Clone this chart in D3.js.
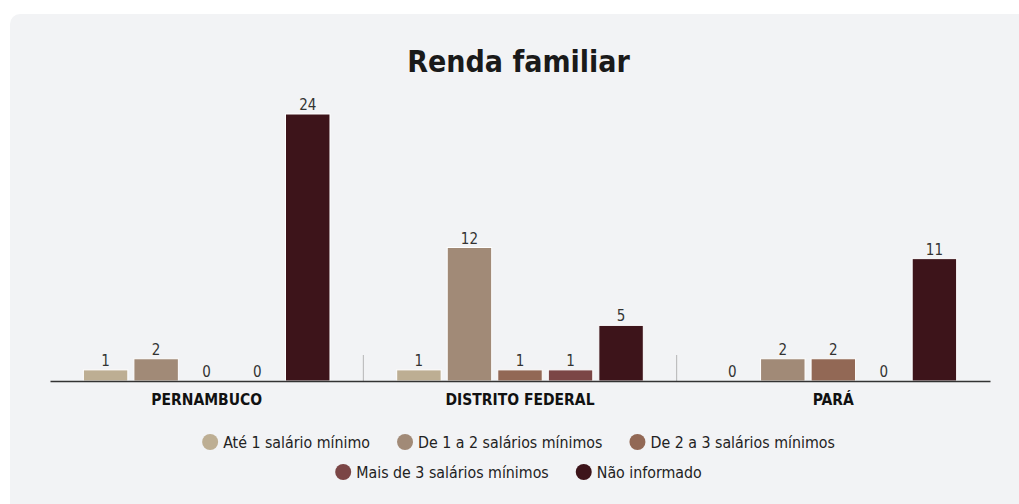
<!DOCTYPE html>
<html>
  <head>
    <meta charset="utf-8" />
    <title>Renda familiar</title>
    <script src="https://d3js.org/d3.v7.min.js"></script>
    <style>
      body {
        margin: 0;
        background: #ffffff;
      }
      svg text {
        font-family: "Liberation Sans Narrow", "DejaVu Sans Condensed", sans-serif;
      }
    </style>
  </head>
  <body>

    <svg id="chart"></svg>

    <script>

      var states = ["PERNAMBUCO", "DISTRITO FEDERAL", "PARÁ"];
      var series = ["Até 1 salário mínimo", "De 1 a 2 salários mínimos", "De 2 a 3 salários mínimos", "Mais de 3 salários mínimos", "Não informado"];
      var colors = ["#bdae93", "#a18a77", "#926855", "#7b4646", "#3d141a"];
      var values = [
        [1, 2, 0, 0, 24],   // Pernambuco
        [1, 12, 1, 1, 5],   // Distrito Federal
        [0, 2, 2, 0, 11]    // Pará
      ];

      var width = 1019;
      var height = 504;
      var margin = { top: 114, right: 29, bottom: 123, left: 50 };

      var svg = d3.select("#chart")
        .attr("width", width)
        .attr("height", height);

      // panel background
      svg.append("rect")
        .attr("x", 10)
        .attr("y", 14)
        .attr("width", width + 20)
        .attr("height", height)
        .attr("rx", 10)
        .attr("fill", "#f2f3f5");

      svg.append("text")
        .attr("x", width / 2 + 9)
        .attr("y", 72)
        .attr("text-anchor", "middle")
        .style("font-size", "30px")
        .style("font-weight", "bold")
        .style("fill", "#1a1a1a")
        .text("Renda familiar");

      var x0 = d3.scaleBand()
        .domain(states)
        .range([margin.left, width - margin.right]);

      var x1 = d3.scaleBand()
        .domain(d3.range(series.length))
        .range([0, x0.bandwidth()])
        .paddingInner(0.12)
        .paddingOuter(0.66);

      var y = d3.scaleLinear()
        .domain([0, 24])
        .range([height - margin.bottom, margin.top]);

      // separators between groups
      svg.selectAll(".sep")
        .data(states.slice(1))
        .enter().append("line")
        .attr("class", "sep")
        .attr("x1", function(d) { return x0(d); })
        .attr("x2", function(d) { return x0(d); })
        .attr("y1", y(0) - 26)
        .attr("y2", y(0))
        .attr("stroke", "#b5b5b5")
        .attr("stroke-width", 1);

      var groups = svg.selectAll(".group")
        .data(states)
        .enter().append("g")
        .attr("class", "group")
        .attr("transform", function(d) { return "translate(" + x0(d) + ",0)"; });

      groups.selectAll("rect")
        .data(function(d, i) { return values[i]; })
        .enter().append("rect")
        .attr("x", function(d, i) { return x1(i); })
        .attr("y", function(d) { return y(d); })
        .attr("width", x1.bandwidth())
        .attr("height", function(d) { return y(0) - y(d); })
        .attr("fill", function(d, i) { return colors[i]; })
        .attr("stroke", function(d) { return d > 0 ? "#ffffff" : "none"; })
        .attr("stroke-width", 1);

      groups.selectAll(".value")
        .data(function(d, i) { return values[i]; })
        .enter().append("text")
        .attr("class", "value")
        .attr("x", function(d, i) { return x1(i) + x1.bandwidth() / 2; })
        .attr("y", function(d) { return y(d) - 4; })
        .attr("text-anchor", "middle")
        .style("font-size", "15px")
        .style("fill", "#333")
        .text(function(d) { return d; });

      // x axis
      var xAxis = d3.axisBottom(x0).tickSize(0).tickPadding(13);
      var gx = svg.append("g")
        .attr("transform", "translate(0," + y(0) + ")")
        .call(xAxis);
      gx.select(".domain")
        .attr("stroke", "#333")
        .attr("stroke-width", 1.5);
      gx.selectAll("text")
        .style("font-size", "15.5px")
        .style("font-weight", "bold")
        .style("fill", "#111");

      // legend
      var legendRows = [[0, 1, 2], [3, 4]];
      var rowY = [442, 472];
      legendRows.forEach(function(row, r) {
        var g = svg.append("g");
        var xpos = 0;
        row.forEach(function(k) {
          var item = g.append("g").attr("transform", "translate(" + xpos + "," + rowY[r] + ")");
          item.append("circle")
            .attr("cx", 8)
            .attr("cy", 0)
            .attr("r", 8)
            .attr("fill", colors[k]);
          var t = item.append("text")
            .attr("x", 21)
            .attr("y", 5.5)
            .style("font-size", "15.8px")
            .style("fill", "#222")
            .text(series[k]);
          xpos += 21 + t.node().getComputedTextLength() + 27;
        });
        var total = xpos - 27;
        g.attr("transform", "translate(" + ((width - total) / 2 + 9) + ",0)");
      });

    </script>
  </body>
</html>
